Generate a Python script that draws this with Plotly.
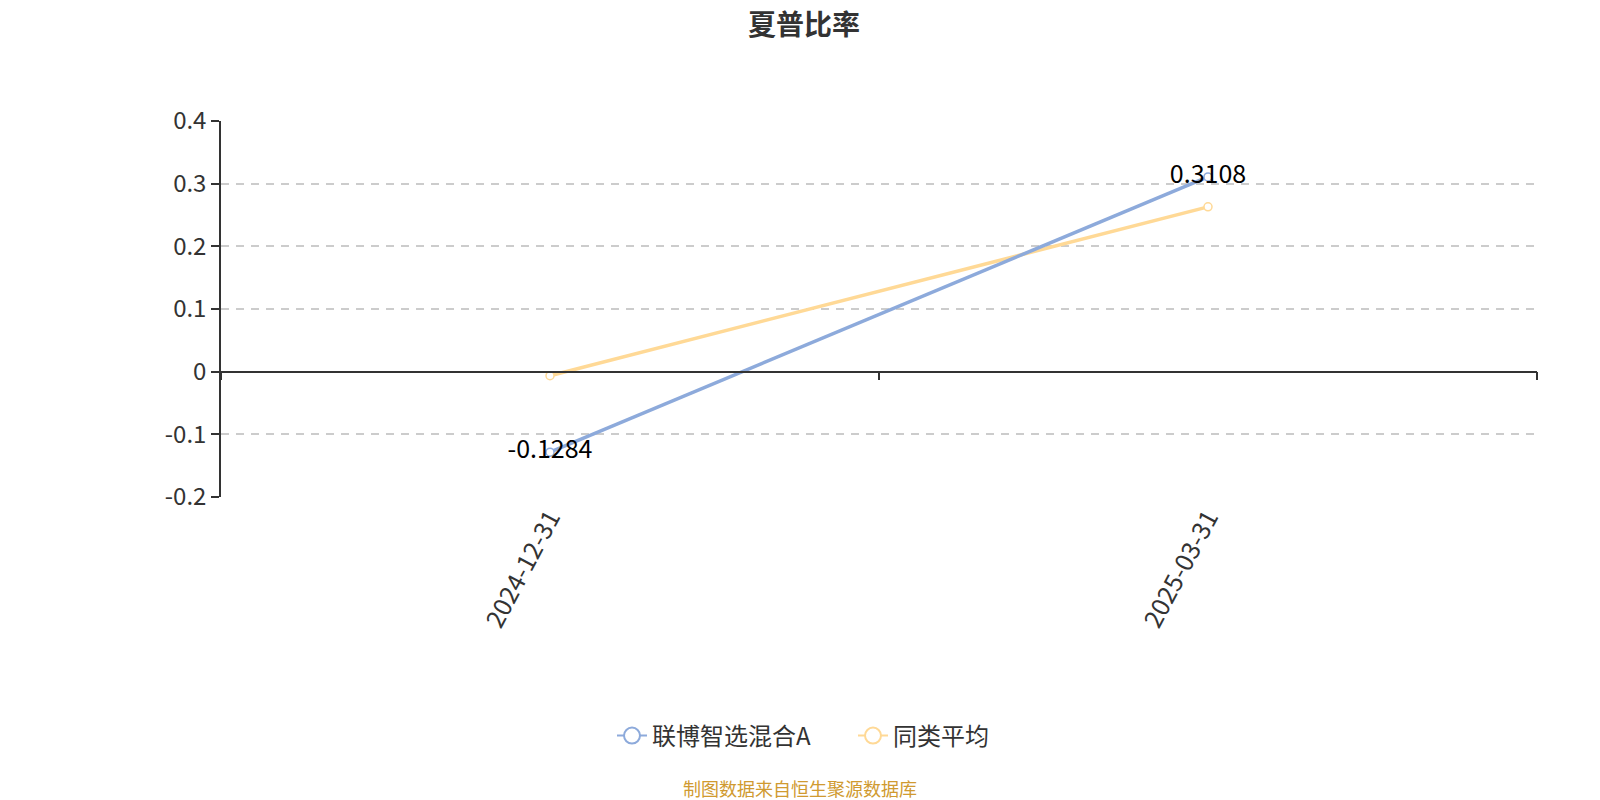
import plotly.graph_objects as go

categories = ["2024-12-31", "2025-03-31"]
fund_name = "联博智选混合A"
avg_name = "同类平均"
fund_values = [-0.1284, 0.3108]
avg_values = [-0.0064, 0.263]
y_tickvals = [-0.2, -0.1, 0, 0.1, 0.2, 0.3, 0.4]
y_ticktext = ["-0.2", "-0.1", "0", "0.1", "0.2", "0.3", "0.4"]

BLUE = "#8DAADB"
YELLOW = "#FFD996"
FONT = "Noto Sans CJK SC"

# figure is offset by the 8px body margin of the page
W, H = 1592, 792
L, T, R, B = 213, 113, 1529, 489   # plot area in figure pixels
PH = B - T

def py(fig_y):
    return (B - fig_y) / PH

def px(fig_x):
    return (fig_x - L) / (R - L)

fig = go.Figure()

fig.add_trace(go.Scatter(
    x=categories, y=avg_values, mode="lines+markers", name=avg_name,
    line=dict(color=YELLOW, width=3.5),
    marker=dict(symbol="circle", size=8, color="white", line=dict(color=YELLOW, width=1.5)),
    showlegend=False, cliponaxis=False,
))
fig.add_trace(go.Scatter(
    x=categories, y=fund_values, mode="lines+markers+text", name=fund_name,
    line=dict(color=BLUE, width=3.5),
    marker=dict(symbol="circle", size=8, color="white", line=dict(color=BLUE, width=1.5)),
    text=[f"{v:.4f}" for v in fund_values], textposition="middle center",
    textfont=dict(family=FONT, size=25, color="#000000"),
    showlegend=False, cliponaxis=False,
))

for nm, col, lg in [(fund_name, BLUE, "legend"), (avg_name, YELLOW, "legend2")]:
    fig.add_trace(go.Scatter(
        x=[categories[0]], y=[None], mode="lines+markers", name=nm,
        line=dict(color=col, width=2),
        marker=dict(symbol="circle", size=20, color="white", line=dict(color=col, width=2)),
        xaxis="x2", showlegend=True, legend=lg,
    ))

leg_common = dict(
    orientation="h", yanchor="middle", y=py(728), xanchor="left",
    font=dict(family=FONT, size=24, color="#333333"), itemsizing="trace",
    bgcolor="rgba(0,0,0,0)",
)

fig.update_layout(
    width=W, height=H,
    paper_bgcolor="white", plot_bgcolor="white",
    margin=dict(l=L, r=W - R, t=T, b=H - B),
    font=dict(family=FONT, color="#333333"),
    title=dict(text="夏普比率", x=0.5, xanchor="center", y=1 - 17 / H, yanchor="middle",
               font=dict(family=FONT, size=28, color="#333333", weight="bold")),
    xaxis=dict(
        type="category", categoryorder="array", categoryarray=categories,
        range=[-0.5, 1.5], showline=False, showgrid=False, zeroline=False,
        ticks="", tickangle=-62, tickfont=dict(family=FONT, size=25, color="#333333"),
    ),
    xaxis2=dict(
        type="category", categoryorder="array", categoryarray=categories,
        overlaying="x", anchor="free", position=1 / 3, range=[-0.5, 1.5],
        showline=True, linecolor="#333333", linewidth=1.5,
        ticks="outside", tickson="boundaries", ticklen=8, tickcolor="#333333", tickwidth=1.5,
        showticklabels=False, showgrid=False, zeroline=False,
    ),
    yaxis=dict(
        range=[-0.2, 0.4], tickvals=y_tickvals, ticktext=y_ticktext,
        showline=True, linecolor="#333333", linewidth=1.5,
        ticks="outside", ticklen=8, tickcolor="#333333", tickwidth=1.5,
        showgrid=True, gridcolor="#cccccc", griddash="8px,7px", gridwidth=1.5,
        zeroline=False, tickfont=dict(family=FONT, size=24, color="#333333"),
    ),
    legend=dict(x=px(604), **leg_common),
    legend2=dict(x=px(845), **leg_common),
    annotations=[dict(
        text="制图数据来自恒生聚源数据库", xref="paper", yref="paper",
        x=px(792), xanchor="center", y=py(780), yanchor="middle",
        showarrow=False, font=dict(family=FONT, size=18, color="#D09A30"),
    )],
)

fig.write_html("out.html")
